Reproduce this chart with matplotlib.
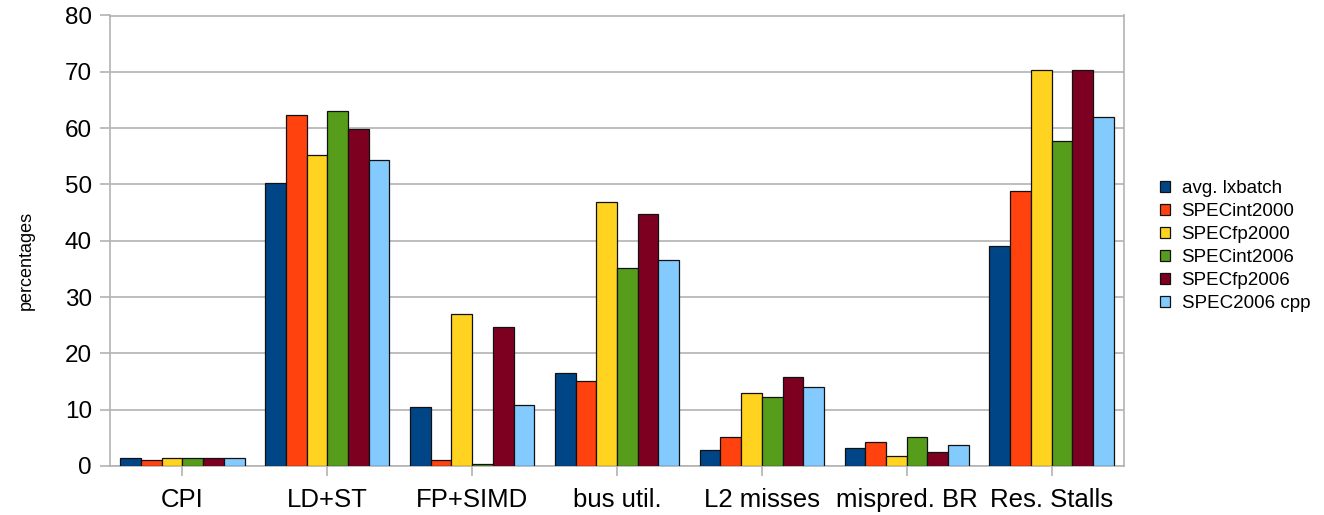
import numpy as np
import matplotlib
matplotlib.use("Agg")
import matplotlib.pyplot as plt
from matplotlib.patches import Patch

plt.rcParams['font.family'] = ['Liberation Sans', 'DejaVu Sans']

categories = ['CPI', 'LD+ST', 'FP+SIMD', 'bus util.', 'L2 misses', 'mispred. BR', 'Res. Stalls']
series = ['avg. lxbatch', 'SPECint2000', 'SPECfp2000', 'SPECint2006', 'SPECfp2006', 'SPEC2006 cpp']
avg_lxbatch = [1.35, 50.3, 10.5, 16.5, 2.8, 3.2, 39.0]
specint2000 = [1.0, 62.3, 1.0, 15.1, 5.2, 4.2, 48.9]
specfp2000 = [1.35, 55.2, 27.0, 46.8, 12.9, 1.7, 70.4]
specint2006 = [1.35, 63.0, 0.35, 35.2, 12.2, 5.2, 57.7]
specfp2006 = [1.35, 59.8, 24.6, 44.7, 15.8, 2.4, 70.4]
spec2006_cpp = [1.35, 54.3, 10.8, 36.6, 14.0, 3.8, 62.0]
colors = ['#004586', '#ff420e', '#ffd320', '#579d1c', '#7e0021', '#83caff']

values = [avg_lxbatch, specint2000, specfp2000, specint2006, specfp2006, spec2006_cpp]

fig = plt.figure(figsize=(13.24, 5.15), dpi=100)
ax = fig.add_axes([110/1324, 1 - 466/515, (1124 - 110)/1324, (466 - 15.5)/515])

x = np.arange(len(categories))
w = 0.143
for i, (vals, c) in enumerate(zip(values, colors)):
    ax.bar(x + (i - 2.5)*w, vals, w, color=c, edgecolor='#111111', linewidth=0.9, zorder=3)

ax.set_xlim(-0.5, len(categories) - 0.5)
ax.set_ylim(0, 80)
ax.set_yticks(range(0, 81, 10))
ax.set_xticks(x)
ax.set_xticklabels(categories)
ax.yaxis.grid(True, color='#b3b3b3', linewidth=1.2, zorder=0)
for s in ax.spines.values():
    s.set_color('#b3b3b3')
    s.set_linewidth(1.2)
ax.tick_params(axis='y', length=7, color='#b3b3b3', width=1.2, labelsize=17.5, pad=6)
ax.tick_params(axis='x', length=7, color='#b3b3b3', width=1.2, labelsize=18.5, pad=9)

fig.text(26/1324, 1 - 260/515, 'percentages', rotation=90, ha='center', va='center', fontsize=13)

handles = [Patch(facecolor=c, edgecolor='#111111', linewidth=0.9) for c in colors]
fig.legend(handles, series, loc='center left', bbox_to_anchor=(1160/1324, 1 - 246/515),
           frameon=False, fontsize=13.5, handlelength=0.55, handleheight=0.55,
           handletextpad=0.6, labelspacing=0.32, borderpad=0, borderaxespad=0)

fig.savefig('out.png', dpi=100)
